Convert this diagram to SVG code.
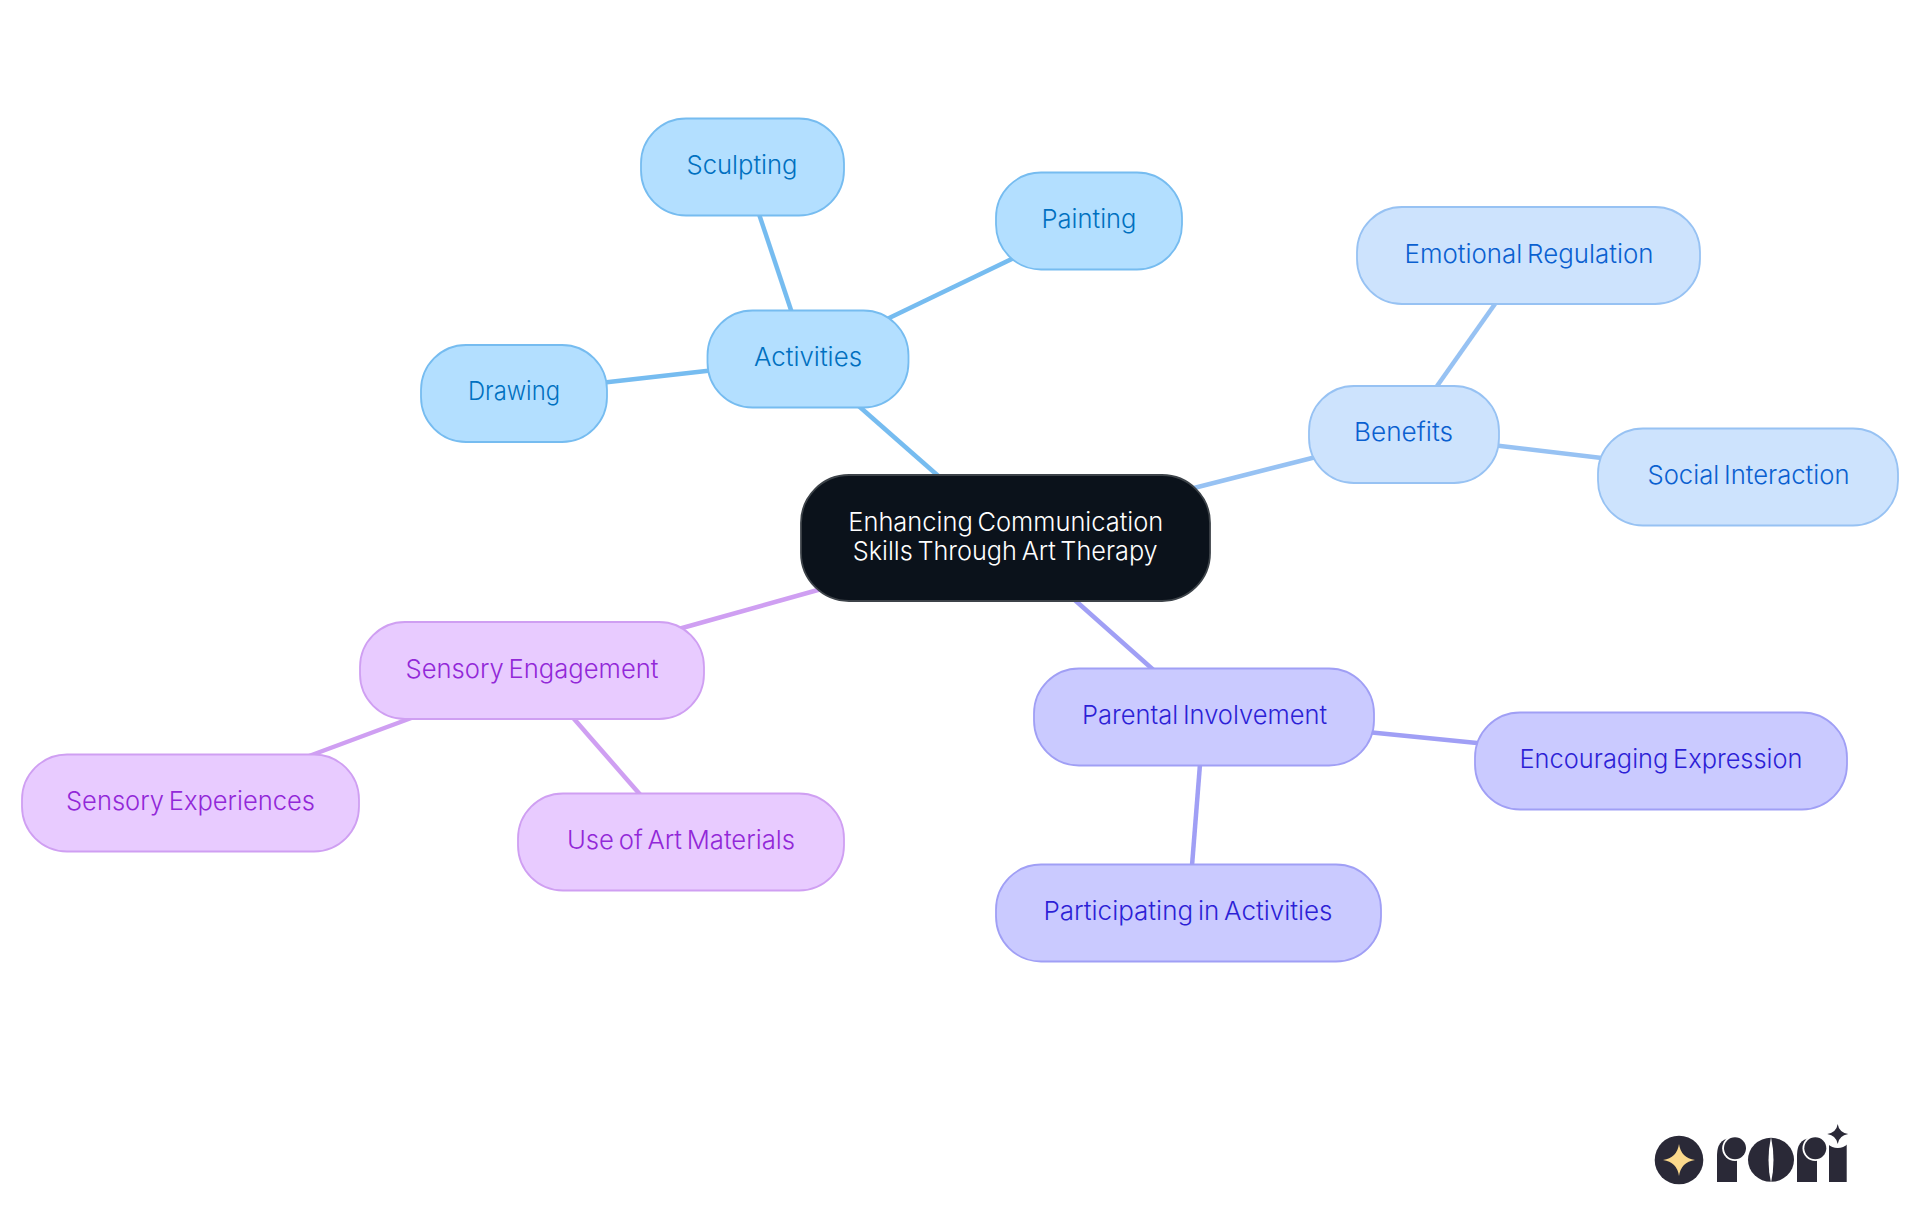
<svg xmlns="http://www.w3.org/2000/svg" width="1920" height="1215" viewBox="0 0 1920 1215">
<style>
text{font-family:"Inter","Noto Sans","Liberation Sans",sans-serif;font-size:26px;font-weight:350;text-anchor:middle;word-spacing:-2.5px}
rect{stroke-width:1.8}
.c line{stroke-width:4.5;fill:none}
.a rect{fill:#b3dfff;stroke:#76bcf0}.a text{fill:#0070c0}
.b rect{fill:#cde3fd;stroke:#97c2f3}.b text{fill:#0a60d0}
.p rect{fill:#cacaff;stroke:#a09ff5}.p text{fill:#2d1fd6}
.s rect{fill:#e8cbff;stroke:#cf9ff2}.s text{fill:#9228d8}
</style>
<g id="connectors" class="c">
<line x1="853" y1="401" x2="944" y2="481" stroke="#76bcf0"/>
<line x1="756" y1="205" x2="793" y2="316" stroke="#76bcf0"/>
<line x1="600" y1="383" x2="715" y2="370" stroke="#76bcf0"/>
<line x1="885" y1="320" x2="1020" y2="255" stroke="#76bcf0"/>
<line x1="1190" y1="489" x2="1320" y2="456" stroke="#97c2f3"/>
<line x1="1430" y1="396" x2="1502" y2="294" stroke="#97c2f3"/>
<line x1="1492" y1="445" x2="1606" y2="458.500" stroke="#97c2f3"/>
<line x1="1068" y1="594" x2="1158" y2="674" stroke="#a09ff5"/>
<line x1="1367" y1="732" x2="1482" y2="743.500" stroke="#a09ff5"/>
<line x1="1200.500" y1="758" x2="1191.500" y2="872" stroke="#a09ff5"/>
<line x1="675" y1="630" x2="825" y2="588" stroke="#cf9ff2"/>
<line x1="305" y1="757.500" x2="418" y2="715.500" stroke="#cf9ff2"/>
<line x1="568" y1="712" x2="644" y2="799" stroke="#cf9ff2"/>
</g>
<g id="root"><rect x="801" y="475" width="409" height="126" rx="48" fill="#0b121b" stroke="#3d4349"/>
<text x="1005.800" y="531" fill="#fff" textLength="315" lengthAdjust="spacingAndGlyphs">Enhancing Communication</text><text x="1005.200" y="560" fill="#fff" textLength="305" lengthAdjust="spacingAndGlyphs">Skills Through Art Therapy</text></g>
<g id="activities" class="a"><rect x="707.500" y="310.500" width="201" height="97" rx="45"/><text x="808" y="366" textLength="108" lengthAdjust="spacingAndGlyphs">Activities</text></g>
<g id="sculpting" class="a"><rect x="641" y="118.500" width="203" height="97" rx="45"/><text x="742" y="174" textLength="111" lengthAdjust="spacingAndGlyphs">Sculpting</text></g>
<g id="painting" class="a"><rect x="996" y="172.500" width="186" height="97" rx="45"/><text x="1089" y="228" textLength="95" lengthAdjust="spacingAndGlyphs">Painting</text></g>
<g id="drawing" class="a"><rect x="421" y="345" width="186" height="97" rx="45"/><text x="514" y="400" textLength="92" lengthAdjust="spacingAndGlyphs">Drawing</text></g>
<g id="benefits" class="b"><rect x="1309" y="386" width="190" height="97" rx="45"/><text x="1403.500" y="441" textLength="99" lengthAdjust="spacingAndGlyphs">Benefits</text></g>
<g id="emotional" class="b"><rect x="1357" y="207" width="343" height="97" rx="45"/><text x="1529" y="263" textLength="249" lengthAdjust="spacingAndGlyphs">Emotional Regulation</text></g>
<g id="social" class="b"><rect x="1598" y="428.500" width="300" height="97" rx="45"/><text x="1748.500" y="484" textLength="202" lengthAdjust="spacingAndGlyphs">Social Interaction</text></g>
<g id="parental" class="p"><rect x="1034" y="668.500" width="340" height="97" rx="45"/><text x="1204.500" y="724" textLength="245" lengthAdjust="spacingAndGlyphs">Parental Involvement</text></g>
<g id="encouraging" class="p"><rect x="1475" y="712.500" width="372" height="97" rx="45"/><text x="1661" y="768" textLength="283" lengthAdjust="spacingAndGlyphs">Encouraging Expression</text></g>
<g id="participating" class="p"><rect x="996" y="864.500" width="385" height="97" rx="45"/><text x="1188" y="920" textLength="289" lengthAdjust="spacingAndGlyphs">Participating in Activities</text></g>
<g id="engagement" class="s"><rect x="360" y="622" width="344" height="97" rx="45"/><text x="532" y="678" textLength="253" lengthAdjust="spacingAndGlyphs">Sensory Engagement</text></g>
<g id="experiences" class="s"><rect x="22" y="754.500" width="337" height="97" rx="45"/><text x="190.500" y="810" textLength="249" lengthAdjust="spacingAndGlyphs">Sensory Experiences</text></g>
<g id="materials" class="s"><rect x="518" y="793.500" width="326" height="97" rx="45"/><text x="681" y="849" textLength="228" lengthAdjust="spacingAndGlyphs">Use of Art Materials</text></g>
<g id="logo" fill="#2a2937">
<circle cx="1679" cy="1160" r="24.300"/>
<path d="M1679 1144Q1681 1158 1695 1160Q1681 1162 1679 1176Q1677 1162 1663 1160Q1677 1158 1679 1144Z" fill="#fbd98c"/>
<path d="M1717 1182V1155Q1717 1140 1730 1138H1737V1182Z"/><circle cx="1735" cy="1148.300" r="12.800" fill="#fff"/><circle cx="1735" cy="1148.300" r="11"/>
<ellipse cx="1771" cy="1159.800" rx="23" ry="22"/><path d="M1771 1137Q1776 1160 1771 1183Q1766 1160 1771 1137Z" fill="#fff"/>
<path d="M1797 1182V1155Q1797 1140 1810 1138H1817V1182Z"/><circle cx="1815.300" cy="1148.300" r="12.800" fill="#fff"/><circle cx="1815.300" cy="1148.300" r="11"/>
<rect x="1829" y="1143" width="17.700" height="39" style="stroke:none"/><circle cx="1837.700" cy="1134" r="14" fill="#fff"/>
<path d="M1837.700 1124Q1839 1132.500 1848.200 1134Q1839 1135.500 1837.700 1144Q1836.400 1135.500 1827.200 1134Q1836.400 1132.500 1837.700 1124Z"/>
</g>
</svg>
